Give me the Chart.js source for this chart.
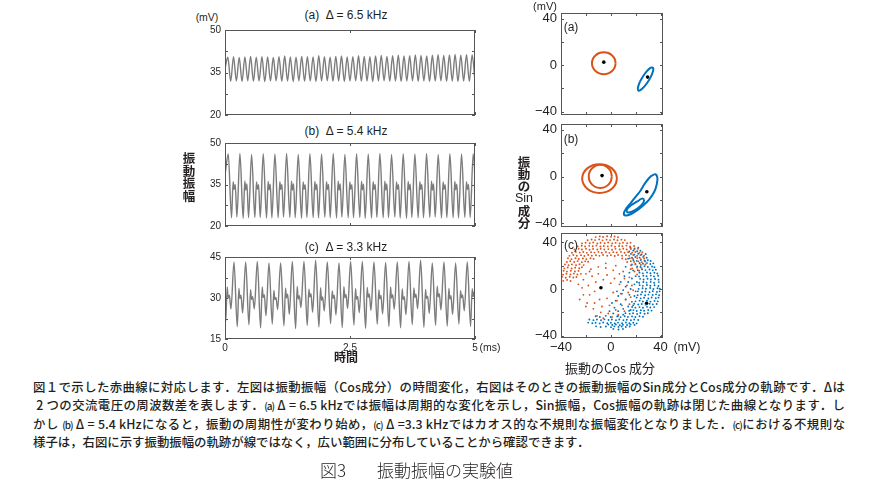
<!DOCTYPE html>
<html>
<head>
<meta charset="utf-8">
<script src="https://cdn.jsdelivr.net/npm/chart.js@4.4.0/dist/chart.umd.min.js"></script>
<style>
body{margin:0;background:#fff;width:890px;height:500px;position:relative;overflow:hidden;font-family:"Liberation Sans",Arial,sans-serif;color:#231f20}
canvas{position:absolute}
.t{position:absolute;white-space:nowrap;line-height:1;transform:translate(-50%,-50%)}
.v{position:absolute;text-align:center;font-weight:bold;transform:translateX(-50%)}
.cap{position:absolute;left:33px;width:812px;font-family:"Noto Sans CJK JP",sans-serif;font-size:12.4px;font-weight:500;white-space:nowrap;line-height:1;text-align:justify;text-align-last:justify}
.sm{font-size:10px;letter-spacing:-1px}
</style>
</head>
<body>
<canvas id="la" width="310" height="95" style="left:170px;top:25px"></canvas>
<canvas id="lb" width="310" height="93" style="left:170px;top:138px"></canvas>
<canvas id="lc" width="310" height="105" style="left:170px;top:252px"></canvas>
<canvas id="ra" width="147" height="112" style="left:521px;top:8px"></canvas>
<canvas id="rb" width="147" height="113" style="left:521px;top:119px"></canvas>
<canvas id="rc" width="147" height="132" style="left:521px;top:228px"></canvas>

<div class="t" style="left:207px;top:17px;font-size:10.5px">(mV)</div>
<div class="t" style="left:346px;top:15px;font-size:12px">(a)&nbsp;&nbsp;Δ = 6.5 kHz</div>
<div class="t" style="left:346px;top:131px;font-size:12px">(b)&nbsp;&nbsp;Δ = 5.4 kHz</div>
<div class="t" style="left:346px;top:247px;font-size:12px">(c)&nbsp;&nbsp;Δ = 3.3 kHz</div>
<div class="t" style="left:490px;top:347px;font-size:10.5px">(ms)</div>
<div class="t" style="left:346px;top:357px;font-size:12px;font-weight:bold;font-family:'Noto Sans CJK JP'">時間</div>
<div class="v" style="left:189px;top:152px;font-size:12.5px;line-height:12.6px;font-family:'Noto Sans CJK JP'">振<br>動<br>振<br>幅</div>

<div class="t" style="left:545px;top:6px;font-size:11px">(mV)</div>
<div class="t" style="left:571px;top:27px;font-size:12px">(a)</div>
<div class="t" style="left:571px;top:139px;font-size:12px">(b)</div>
<div class="t" style="left:571px;top:245px;font-size:12px">(c)</div>
<div class="v" style="left:524px;top:156px;font-size:12.5px;line-height:11.8px;font-family:'Noto Sans CJK JP'">振<br>動<br>の<br><span style="font-family:'Liberation Sans';font-weight:normal">Sin</span><br>成<br>分</div>
<div class="t" style="left:687px;top:347px;font-size:12.5px">(mV)</div>
<div class="t" style="left:610px;top:367px;font-size:13px;font-family:'Noto Sans CJK JP'">振動のCos 成分</div>

<div class="cap" style="top:381px">図１で示した赤曲線に対応します．左図は振動振幅（Cos成分）の時間変化，右図はそのときの振動振幅のSin成分とCos成分の軌跡です．Δは</div>
<div class="cap" style="top:399px">&nbsp;2 つの交流電圧の周波数差を表します．<span class="sm">(a)</span> Δ = 6.5 kHzでは振幅は周期的な変化を示し，Sin振幅，Cos振幅の軌跡は閉じた曲線となります．し</div>
<div class="cap" style="top:418px">かし <span class="sm">(b)</span> Δ = 5.4 kHzになると，振動の周期性が変わり始め，<span class="sm">(c)</span> Δ =3.3 kHzではカオス的な不規則な振幅変化となりました．<span class="sm">(c)</span>における不規則な</div>
<div class="cap" style="top:436px;width:auto;text-align-last:auto">様子は，右図に示す振動振幅の軌跡が線ではなく，広い範囲に分布していることから確認できます．</div>
<div class="t" style="left:333px;top:469px;font-size:17px;font-family:'Noto Sans CJK JP';font-weight:300">図3</div>
<div class="t" style="left:445px;top:469px;font-size:17px;font-family:'Noto Sans CJK JP';font-weight:300">振動振幅の実験値</div>

<script>
// time axis (ms)
const timeTicks = [0, 2.5, 5];
const timeLabels = [0, 2.5, 5];
const aStep = 5 / 88;
// (b),(c): one value per phase point of each cycle (peak, trough, bump, dip, bump, trough)
const cyclePeriod = 0.2333;
const cyclePhase = [0, 0.28, 0.42, 0.5, 0.6, 0.74];
const bFirstPeak = 0.065;
const cFirstPeak = 0.18;

// (a) 6.5 kHz amplitude, mV
const aVals = [36.5,
  40.4,31.9, 40.6,32.0, 40.3,31.8, 40.5,32.1, 40.7,31.9, 40.4,32.0, 40.6,31.8, 40.5,32.0, 40.3,32.1, 40.6,31.9,
  40.8,32.0, 40.5,31.8, 40.4,32.1, 40.7,31.9, 40.6,32.0, 40.5,31.8, 40.9,32.0, 40.6,32.1, 40.4,31.9, 40.7,32.0,
  40.8,31.8, 40.5,32.0, 40.6,32.1, 40.9,31.9, 40.7,32.0, 40.6,31.8, 40.8,32.0, 41.0,32.1, 40.7,31.9, 40.9,32.0,
  41.1,31.8, 40.8,32.0, 40.9,32.1, 41.2,31.9, 41.0,32.0, 40.8,31.8, 41.1,32.0, 41.3,32.1, 41.0,31.9, 41.2,32.0,
  41.4,31.8, 41.1,32.0, 41.3,31.9, 41.2,32.0];
const aYTicks = [20, 27.5, 35, 42.5, 50];
const aYLabels = [20, 35, 50];

// (b) 5.4 kHz (first value is the last phase point before the first peak)
const bVals = [39.0,
  46.0,23.0,36.0,33.2,35.0,23.2, 46.2,22.8,36.2,33.0,35.2,23.0, 45.9,23.1,35.9,33.3,34.9,23.1,
  46.1,22.9,36.1,33.1,35.1,22.9, 46.0,23.0,36.0,33.2,35.0,23.2, 46.2,23.1,36.2,33.0,35.2,23.0,
  45.9,22.8,35.9,33.3,34.9,23.1, 46.1,23.0,36.1,33.1,35.1,22.9, 46.0,23.2,36.0,33.2,35.0,23.0,
  46.2,22.9,36.2,33.0,35.2,23.2, 45.9,23.0,35.9,33.3,34.9,23.0, 46.1,23.1,36.1,33.1,35.1,22.8,
  46.0,22.9,36.0,33.2,35.0,23.1, 46.2,23.0,36.2,33.0,35.2,23.0, 45.9,23.2,35.9,33.3,34.9,22.9,
  46.1,22.8,36.1,33.1,35.1,23.1, 46.0,23.0,36.0,33.2,35.0,23.0, 46.2,23.1,36.2,33.0,35.2,23.2,
  45.9,22.9,35.9,33.3,34.9,23.0, 46.1,23.0,36.1,33.1,35.1,22.9, 46.0,23.1,36.0,33.2,35.0,23.1,
  46.1,23.0];
const bYTicks = [20, 27.5, 35, 42.5, 50];
const bYLabels = [20, 35, 50];

// (c) 3.3 kHz (first six values: the cycle before the first full peak)
const cVals = [47.0,21.0,34.0,30.0,31.0,26.0,
  43.2,19.5,33.5,29.8,31.0,24.5, 43.2,20.2,33.0,29.5,30.5,26.0, 43.4,19.0,34.0,30.2,31.2,23.5,
  42.8,20.5,32.8,29.4,30.2,25.8, 42.8,19.8,33.6,30.0,31.4,24.0, 43.4,18.8,34.2,29.6,30.8,26.5,
  43.4,20.0,33.2,30.4,31.6,24.8, 43.8,19.4,33.8,29.2,30.4,25.2, 43.2,20.6,32.6,29.9,31.0,23.8,
  42.8,19.2,34.1,30.1,31.3,26.2, 43.4,20.1,33.4,29.5,30.6,24.6, 43.4,18.9,33.9,30.3,31.5,25.5,
  43.2,20.4,32.9,29.7,30.9,24.2, 43.0,19.6,34.0,30.0,31.2,25.9, 43.2,19.1,33.3,29.4,30.5,23.9,
  43.4,20.3,33.7,30.2,31.4,26.1, 43.8,19.3,33.1,29.8,30.7,24.4, 42.8,20.0,34.3,30.4,31.6,25.6,
  43.2,19.7,33.5,29.6,30.8,24.0, 42.8,20.5,32.7,30.1,31.1,25.3,
  43.2,19.6,33.4,30.5,32.4,25.0];
const cYTicks = [15, 22.5, 30, 37.5, 45];
const cYLabels = [15, 30, 45];

// right panels: Sin vs Cos component (mV)
const phaseTicks = [-40, -20, 0, 20, 40];
const phaseLabels = [-40, 0, 40];

const aOrange = [[3.9,1.7],[3.2,5.3],[1.1,8.4],[-2.0,10.5],[-5.6,11.2],[-9.2,10.5],[-12.3,8.4],[-14.4,5.3],
  [-15.1,1.7],[-14.4,-1.9],[-12.3,-5.0],[-9.2,-7.1],[-5.6,-7.8],[-2.0,-7.1],[1.1,-5.0],[3.2,-1.9],[3.9,1.7]];
const aBlue = [[33.8,-1.7],[31.9,-2.4],[28.9,-5.4],[25.6,-10.2],[23.0,-15.5],[21.8,-19.8],[22.2,-22.0],
  [24.1,-21.3],[27.1,-18.3],[30.4,-13.5],[33.0,-8.2],[34.2,-3.9],[33.8,-1.7]];
const aDots = [[-5.6,2.6],[29.6,-10.3]];

const bOrangeOuter = [[5,-1.6],[3.9,3.1],[0.9,7.1],[-3.6,9.8],[-9,10.7],[-14.4,9.8],[-18.9,7.1],[-21.9,3.1],
  [-23,-1.6],[-21.9,-6.3],[-18.9,-10.3],[-14.4,-13],[-9,-13.9],[-3.6,-13],[0.9,-10.3],[3.9,-6.3],[5,-1.6]];
const bOrangeInner = [[0.9,0.2],[-0.35,5.2],[-3.75,8.8],[-8.4,10.1],[-13.05,8.8],[-16.45,5.2],[-17.7,0.2],
  [-16.45,-4.8],[-13.05,-8.4],[-8.4,-9.7],[-3.75,-8.4],[-0.35,-4.8],[0.9,0.2]];
const bBlueOuter = [[33,1],[36,2.1],[37.5,-1.1],[37,-6.4],[35,-12.9],[31,-19.3],[26,-24.6],[21,-28.9],
  [16,-32.1],[12,-33.2],[10.5,-31.6],[12,-27.9],[16,-22.5],[20,-17.2],[24,-11.8],[27,-6.5],[30,-2.2],[33,1]];
const bBlueInner = [[27,-19.3],[26,-22.5],[22,-26.8],[17,-30],[13.5,-30.5],[13,-27.9],[16,-24.6],[21,-21.4],[25,-18.8],[27,-19.3]];
const bDots = [[-7,0.9],[29,-12.9]];

const cOrange = [[-38.2,7.0],[-35.1,7.8],[-32.3,6.9],
  [-39.1,10.4],[-36.2,9.6],[-33.0,10.5],[-30.1,9.8],[-27.6,10.3],
  [-38.4,12.3],[-35.6,13.1],[-32.4,12.5],[-29.7,13.2],[-26.8,12.4],
  [-37.9,15.6],[-35.2,14.9],[-32.1,15.7],[-28.8,15.0],[-25.9,15.5],
  [-37.3,17.7],[-34.6,18.4],[-31.4,17.6],[-28.6,18.3],[-25.3,17.8],[-23.2,18.6],
  [-36.8,21.0],[-33.9,20.3],[-31.2,21.1],[-27.9,20.4],[-25.1,21.2],[-21.8,20.5],
  [-35.3,23.1],[-32.6,23.8],[-29.4,23.2],[-26.6,23.9],[-23.3,23.0],[-20.6,23.7],[-18.2,23.3],
  [-34.4,26.3],[-31.6,25.6],[-28.3,26.4],[-25.7,25.7],[-22.4,26.2],[-19.6,25.5],[-16.3,26.3],[-13.8,25.8],
  [9.2,26.1],[12.1,25.5],[15.3,26.4],[18.0,25.7],[21.2,26.3],[24.1,25.6],[26.8,26.2],
  [-33.2,28.4],[-30.1,29.1],[-27.3,28.5],[-23.9,29.0],[-21.2,28.3],[-18.1,29.2],[-15.2,28.6],[-11.9,28.9],
  [-9.1,28.4],[-6.2,29.1],[-2.8,28.5],[0.1,29.0],[3.2,28.3],[5.9,29.2],[9.1,28.6],[12.2,29.0],[14.8,28.4],
  [18.1,29.1],[21.2,28.5],[23.9,29.0],[26.8,28.6],
  [-31.2,31.1],[-28.1,31.8],[-24.9,31.2],[-22.1,31.7],[-19.2,31.0],[-15.8,31.6],[-13.1,31.2],[-9.9,31.8],
  [-7.2,31.1],[-3.9,31.7],[-1.1,31.0],[2.1,31.6],[4.8,31.3],[8.2,31.8],[11.1,31.1],[13.9,31.6],[17.2,31.2],
  [19.8,31.7],[23.1,31.0],[25.4,31.5],
  [-29.1,33.8],[-25.8,34.4],[-23.2,33.9],[-19.9,34.5],[-17.1,33.7],[-14.2,34.3],[-10.8,33.9],[-8.1,34.5],
  [-5.2,33.8],[-1.9,34.2],[1.1,33.7],[3.8,34.4],[7.2,33.9],[10.1,34.5],[12.8,33.8],[16.2,34.3],[18.9,33.9],[21.8,34.4],
  [-26.6,36.5],[-23.4,37.1],[-20.6,36.4],[-17.3,37.0],[-14.5,36.6],[-11.6,37.2],[-8.3,36.4],[-5.6,36.9],
  [-2.4,36.5],[0.6,37.1],[3.4,36.3],[6.7,36.9],[9.4,36.6],[12.6,37.2],[15.5,36.5],[18.8,36.9],
  [-23.1,39.1],[-20.2,39.7],[-16.9,39.2],[-14.1,39.8],[-10.8,39.0],[-8.2,39.6],[-4.9,39.2],[-2.1,39.8],
  [1.2,39.1],[3.9,39.5],[7.1,39.0],[9.8,39.7],[13.2,39.2],[15.9,39.6],
  [-18.6,41.8],[-15.4,42.4],[-12.6,41.9],[-9.3,42.5],[-6.6,41.7],[-3.4,42.3],[-0.6,41.9],[2.6,42.4],
  [5.4,41.8],[8.6,42.3],[11.3,41.9],
  [-12.1,44.5],[-8.8,45.1],[-6.2,44.6],[-2.9,45.2],[0.2,44.7],[3.1,45.0],[5.8,44.4],
  [13.2,23.1],[16.1,23.8],[18.8,23.2],[22.2,23.7],[24.9,23.0],[27.8,23.6],
  [16.3,20.4],[19.8,21.1],[24.2,20.6],[27.9,21.0],[17.2,17.7],[21.1,18.3],[24.8,17.9],
  [19.1,15.0],[22.8,15.6],[21.2,12.5],
  [-20,13],[-16,17],[-10,19],[-4,18],[2,16],[7,13],[11,9],[13,3],[14,-3],[12,-9],[9,-14],[4,-18],
  [-2,-21],[-8,-20],[-14,-17],[-19,-12],[-22,-5],[-23,1],[-22,8],[-15,11],[-10,13],[-3,12],[3,9],
  [7,4],[8,-4],[5,-10],[-1,-14],[-7,-15],[-13,-12],[-17,-5],[-18,3],[-12,6],[-6,8],[0,5],[2,-3],
  [-3,-8],[-9,-9],[-13,-2],[10,15],[15,10],[17,3],[16,-7],[-20,-15],[-25,-9],[-6,-25],[1,-24],
  [6,-22],[-11,-23],[-17,15],[-24,13],[16,17],[18,-1],[15,-13],[11,-19],[-26,4],[-4,22],[4,20]];

const cBlue = [[15.8,35.3],[19.2,34.8],[22.1,35.4],
  [14.9,32.2],[18.1,32.9],[21.2,32.3],[23.8,32.8],
  [16.2,30.1],[18.9,29.5],[22.1,30.2],[24.8,29.6],[28.1,30.0],
  [17.1,26.8],[19.8,27.4],[23.2,26.9],[26.1,27.5],[28.9,26.8],
  [18.2,24.7],[20.9,24.1],[24.1,24.8],[27.2,24.2],[29.8,24.6],[32.1,24.0],
  [19.8,21.5],[23.2,22.1],[25.9,21.6],[29.1,22.2],[31.8,21.4],[34.2,22.0],
  [21.2,19.4],[23.9,18.8],[27.1,19.5],[29.8,18.9],[33.2,19.3],[35.1,18.7],
  [21.8,16.1],[25.2,16.8],[27.9,16.2],[31.2,16.7],[33.8,16.0],[36.2,16.6],
  [23.1,14.0],[25.8,13.4],[29.2,14.1],[31.9,13.5],[35.1,13.9],[37.4,13.3],
  [22.8,10.8],[26.2,11.4],[28.8,10.9],[32.2,11.5],[34.8,10.7],[38.1,11.3],
  [23.6,8.7],[26.4,8.1],[29.6,8.8],[32.3,8.2],[35.6,8.6],[38.4,8.0],
  [22.9,5.4],[26.2,6.0],[28.8,5.5],[32.1,6.1],[34.9,5.3],[38.6,5.9],
  [23.2,3.3],[25.8,2.7],[29.1,3.4],[31.8,2.8],[35.2,3.2],[38.3,2.6],
  [22.4,0.1],[25.6,0.7],[28.3,0.2],[31.7,0.8],[34.3,0.0],[37.6,0.6],[39.4,0.2],
  [21.8,-2.0],[25.2,-2.6],[27.9,-2.1],[31.2,-2.7],[33.8,-1.9],[37.1,-2.5],[39.3,-2.0],
  [21.6,-5.3],[24.3,-4.7],[27.6,-5.4],[30.3,-4.8],[33.7,-5.2],[36.4,-4.6],[38.9,-5.3],
  [20.8,-7.4],[24.1,-8.0],[26.8,-7.5],[30.2,-8.1],[32.9,-7.3],[36.2,-7.9],[38.4,-7.4],
  [19.9,-10.6],[23.2,-10.0],[25.8,-10.7],[29.1,-10.1],[31.9,-10.8],[35.2,-10.2],[37.8,-10.6],
  [18.8,-12.7],[22.1,-13.3],[24.9,-12.8],[28.1,-13.4],[31.2,-12.6],[33.8,-13.2],[36.9,-12.8],
  [17.2,-15.4],[19.8,-16.0],[23.1,-15.5],[25.9,-16.1],[29.2,-15.3],[31.8,-15.9],[34.9,-15.5],
  [14.8,-18.7],[18.2,-18.1],[20.9,-18.8],[24.2,-18.2],[26.8,-18.6],[30.1,-18.0],[32.8,-18.5],
  [11.8,-20.7],[15.2,-21.3],[17.9,-20.8],[21.2,-21.4],[23.8,-20.6],[27.2,-21.2],[29.8,-20.8],
  [-12.1,-23.4],[-8.8,-24.0],[5.2,-23.5],[7.9,-24.1],[11.2,-23.3],[13.8,-23.9],[17.1,-23.5],[19.8,-24.0],[23.1,-23.4],[25.9,-23.8],
  [-17.2,-26.1],[-13.9,-26.7],[-11.1,-26.2],[-7.8,-26.8],[-5.1,-26.0],[-1.8,-26.6],[0.9,-26.2],[4.2,-26.8],
  [6.8,-26.1],[10.2,-26.7],[12.9,-26.3],[16.2,-26.8],[18.8,-26.1],[22.1,-26.6],
  [-18.1,-28.8],[-14.8,-29.4],[-12.2,-28.9],[-8.9,-29.5],[-6.1,-28.7],[-2.8,-29.3],[0.1,-28.9],[3.2,-29.5],
  [5.8,-28.8],[9.1,-29.4],[12.2,-28.7],[14.9,-29.3],[18.1,-28.9],[20.8,-29.5],
  [-1.9,-30.5],[1.2,-30.9],[4.1,-30.4],[7.2,-31.0],[9.8,-30.6],[13.1,-30.9],[15.9,-30.4],[19.1,-30.8],
  [-11.8,-32.0],[-8.1,-32.6],[-3.9,-32.1],[0.2,-32.7],[2.9,-32.0],[6.2,-32.5],[8.8,-32.1],[12.1,-32.6],[15.2,-32.2],
  [2.1,-34.2],[6.2,-34.7],[9.8,-34.3],
  [2,-21],[6,-19],[10,-17],[14,-15],[17,-11],[19,-6],[20,-2],[19,4],[17,9],[15,14],[12,19],[6,-23],
  [10,-22],[3,-16],[8,-13],[12,-9],[15,-5],[16,0],[14,6],[11,11],[18,16],[20,11],[21,6],[-1,-19],
  [4,-10],[9,-4],[12,2],[0,-24],[-4,-23],[16,-18],[18,-14],[8,6],[10,-1],[6,-6],[17,21],[14,26],[1,-12],[5,-2]];
const cDots = [[-7.9,1.1],[28.8,-12.3]];

const ORANGE = '#d95319';
const BLUE = '#0072bd';
const GRAY = '#7c7c7c';
const FRAME = '#555';

Chart.register({
  id: 'frame',
  afterDraw(chart, args, opts) {
    const ctx = chart.ctx, a = chart.chartArea, len = opts.len || 3;
    ctx.save();
    ctx.strokeStyle = FRAME;
    ctx.lineWidth = 1;
    ctx.strokeRect(Math.round(a.left) + 0.5, Math.round(a.top) + 0.5, Math.round(a.right - a.left) - 1, Math.round(a.bottom - a.top) - 1);
    ctx.beginPath();
    chart.scales.x.ticks.forEach(t => {
      const p = Math.round(chart.scales.x.getPixelForValue(t.value)) + 0.5;
      ctx.moveTo(p, a.top); ctx.lineTo(p, a.top + len);
      ctx.moveTo(p, a.bottom); ctx.lineTo(p, a.bottom - len);
    });
    chart.scales.y.ticks.forEach(t => {
      const p = Math.round(chart.scales.y.getPixelForValue(t.value)) + 0.5;
      ctx.moveTo(a.left, p); ctx.lineTo(a.left + len, p);
      ctx.moveTo(a.right, p); ctx.lineTo(a.right - len, p);
    });
    ctx.stroke();
    ctx.restore();
  }
});

function fmt(v) { return v < 0 ? '\u2212' + Math.abs(v) : String(v); }

function axis(opt) {
  return {
    type: 'linear', min: opt.min, max: opt.max,
    grid: { display: false, drawTicks: false },
    border: { display: false },
    afterBuildTicks: s => { s.ticks = opt.ticks.map(v => ({ value: v })); },
    afterFit: s => {
      if (opt.w !== undefined) { s.width = opt.w; s.paddingTop = 0; s.paddingBottom = 0; }
      if (opt.h !== undefined) { s.height = opt.h; s.paddingLeft = 0; s.paddingRight = 0; }
    },
    ticks: {
      display: opt.show, autoSkip: false, maxRotation: 0, padding: opt.pad,
      color: '#231f20', font: { family: 'Liberation Sans', size: opt.size },
      callback: v => opt.labels.includes(v) ? fmt(v) : ''
    }
  };
}

function uniformSeries(vals, step) {
  return vals.map((v, i) => ({ x: i * step, y: v }));
}
// offset = phase index of the first value within the cycle before the first peak
function cycleSeries(vals, firstPeak, offset) {
  return vals.map((v, i) => {
    const j = i + offset;
    return { x: firstPeak + (Math.floor(j / 6) - 1) * cyclePeriod + cyclePhase[j % 6] * cyclePeriod, y: v };
  });
}

function timeChart(id, data, yt, yl, showX, xh) {
  new Chart(document.getElementById(id), {
    type: 'line',
    data: { datasets: [{ data: data, borderColor: GRAY, borderWidth: 1.4,
      pointRadius: 0, cubicInterpolationMode: 'monotone' }] },
    options: {
      responsive: false, animation: false, parsing: false,
      layout: { padding: { top: 5, right: 5, left: 0, bottom: 0 } },
      plugins: { legend: { display: false }, tooltip: { enabled: false }, frame: { len: 3 } },
      scales: {
        x: axis({ min: 0, max: 5, ticks: timeTicks, labels: timeLabels, show: showX, h: xh, pad: 3, size: 10 }),
        y: axis({ min: yt[0], max: yt[yt.length - 1], ticks: yt, labels: yl, show: true, w: 55, pad: 4, size: 10 })
      }
    }
  });
}

timeChart('la', uniformSeries(aVals, aStep), aYTicks, aYLabels, false, 5);
timeChart('lb', cycleSeries(bVals, bFirstPeak, 5), bYTicks, bYLabels, false, 5);
timeChart('lc', cycleSeries(cVals, cFirstPeak, 0), cYTicks, cYLabels, true, 18);

function pts(arr) { return arr.map(p => ({ x: p[0], y: p[1] })); }
function loop(arr, col) { return { data: pts(arr), showLine: true, borderColor: col, borderWidth: 2, pointRadius: 0, tension: 0.4 }; }
function cloud(arr, col) { return { data: pts(arr), showLine: false, backgroundColor: col, borderWidth: 0, pointRadius: 0.95 }; }
function dots(arr) { return { data: pts(arr), showLine: false, backgroundColor: '#000', borderWidth: 0, pointRadius: 1.8 }; }

function phaseChart(id, sets, yMin, yMax, showX, xh) {
  new Chart(document.getElementById(id), {
    type: 'scatter',
    data: { datasets: sets },
    options: {
      responsive: false, animation: false,
      layout: { padding: { top: 5, right: 5, left: 0, bottom: 0 } },
      plugins: { legend: { display: false }, tooltip: { enabled: false }, frame: { len: 3 } },
      scales: {
        x: axis({ min: -40, max: 42, ticks: phaseTicks, labels: phaseLabels, show: showX, h: xh, pad: 2, size: 13 }),
        y: axis({ min: yMin, max: yMax, ticks: phaseTicks, labels: phaseLabels, show: true, w: 40, pad: 4, size: 13 })
      }
    }
  });
}

phaseChart('ra', [loop(aOrange, ORANGE), loop(aBlue, BLUE), dots(aDots)], -43, 45, false, 5);
phaseChart('rb', [loop(bOrangeOuter, ORANGE), loop(bOrangeInner, ORANGE), loop(bBlueOuter, BLUE), loop(bBlueInner, BLUE), dots(bDots)], -43, 45, false, 5);
phaseChart('rc', [cloud(cOrange, ORANGE), cloud(cBlue, BLUE), dots(cDots)], -42, 48, true, 22);
</script>
</body>
</html>
